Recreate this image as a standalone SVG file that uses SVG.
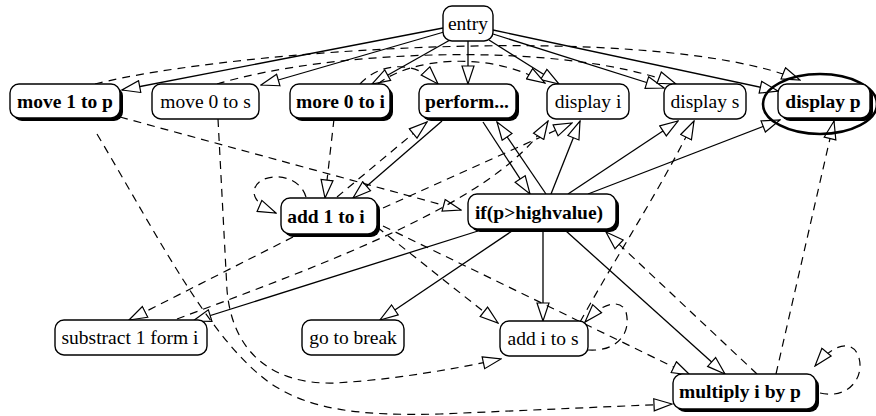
<svg xmlns="http://www.w3.org/2000/svg" width="876" height="416" viewBox="0 0 876 416">
<style>
.s{fill:none;stroke:#000;stroke-width:1.3;marker-end:url(#a)}
.d{fill:none;stroke:#000;stroke-width:1.2;stroke-dasharray:8 6;marker-end:url(#a)}
.box{fill:#fff;stroke:#000;stroke-width:1.4}
.sh{fill:#000}
text{font-family:"Liberation Serif","Times New Roman",serif;font-size:19.5px;text-anchor:middle;fill:#000}
.b text{font-weight:bold}
</style>
<defs>
<marker id="a" markerUnits="userSpaceOnUse" markerWidth="20" markerHeight="14" viewBox="0 0 20 14" refX="19" refY="7" orient="auto">
<path d="M1,1 L19,7 L1,13 Z" fill="#fff" stroke="#000" stroke-width="1.2" stroke-dasharray="none"/>
</marker>
</defs>
<rect width="876" height="416" fill="#fff"/>
<g id="edges">
<path class="s" d="M443,28 L122,90"/>
<path class="s" d="M444,32 L261,85"/>
<path class="s" d="M450,40 L372,84"/>
<path class="s" d="M468,41 L468,84"/>
<path class="s" d="M489,40 L559,84"/>
<path class="s" d="M493,34 L664,88"/>
<path class="s" d="M493,30 L778,91"/>
<path class="s" d="M442,121 L353,198"/>
<path class="s" d="M483,122 L530,194"/>
<path class="s" d="M546,194 L497,122"/>
<path class="s" d="M551,194 L580,121"/>
<path class="s" d="M568,194 L678,121"/>
<path class="s" d="M588,194 L780,120"/>
<path class="s" d="M478,231 L193,321"/>
<path class="s" d="M512,231 L380,320"/>
<path class="s" d="M543,231 L543,321"/>
<path class="s" d="M566,231 L725,374"/>
<path class="d" d="M95,84 C230,50 650,20 800,80"/>
<path class="d" d="M217,84 C330,50 560,40 676,84"/>
<path class="d" d="M378,84 C410,58 490,50 545,83"/>
<path class="d" d="M360,84 C380,62 415,60 438,84"/>
<path class="d" d="M120,117 L461,210"/>
<path class="d" d="M97,134 C160,240 210,340 270,383 C310,410 360,416 440,414 L672,404"/>
<path class="d" d="M218,119 L227,290 C232,350 270,385 335,383 C390,380 450,370 501,359"/>
<path class="d" d="M306,197 C298,170 255,172 254,192 C254,200 262,207 276,213"/>
<path class="d" d="M334,119 L325,198"/>
<path class="d" d="M337,197 L427,122"/>
<path class="d" d="M383,208 L572,123"/>
<path class="d" d="M177,319 C330,262 500,200 548,121"/>
<path class="d" d="M293,237 L129,320"/>
<path class="d" d="M377,227 L498,323"/>
<path class="d" d="M383,226 L690,375"/>
<path class="d" d="M588,350 C615,352 632,335 626,312 C622,300 605,300 585,322"/>
<path class="d" d="M580,322 C620,250 660,190 694,121"/>
<path class="d" d="M757,374 L606,232"/>
<path class="d" d="M776,374 L834,121"/>
<path class="d" d="M820,393 C850,400 866,375 858,355 C852,341 835,342 815,366"/>
</g>
<g id="entry"><rect class="box" x="443" y="6" width="50" height="35" rx="9"/><text x="468" y="30">entry</text></g>
<g id="move1p" class="b"><rect class="sh" x="13" y="87" width="110" height="34" rx="9"/><rect class="box" x="10" y="84" width="110" height="34" rx="9"/><text x="65" y="108">move 1 to p</text></g>
<g id="move0s"><rect class="box" x="152" y="84" width="107" height="35" rx="9"/><text x="205.5" y="108">move 0 to s</text></g>
<g id="more0i" class="b"><rect class="sh" x="293" y="87" width="100" height="34" rx="9"/><rect class="box" x="290" y="84" width="100" height="34" rx="9"/><text x="340.5" y="108">more 0 to i</text></g>
<g id="perform" class="b"><rect class="sh" x="422" y="87" width="97" height="34" rx="9"/><rect class="box" x="419" y="84" width="97" height="34" rx="9"/><text x="467" y="108">perform...</text></g>
<g id="displayi"><rect class="box" x="547" y="84" width="82" height="35" rx="9"/><text x="588" y="108">display i</text></g>
<g id="displays"><rect class="box" x="664" y="84" width="82" height="35" rx="9"/><text x="705" y="108">display s</text></g>
<g id="displayp" class="b"><ellipse cx="820" cy="104" rx="57" ry="30" fill="none" stroke="#000" stroke-width="2.6"/><rect class="sh" x="781" y="87" width="92" height="34" rx="9"/><rect class="box" x="778" y="84" width="92" height="34" rx="9"/><text x="823" y="108">display p</text></g>
<g id="add1i" class="b"><rect class="sh" x="284" y="201" width="96" height="36" rx="9"/><rect class="box" x="281" y="198" width="96" height="36" rx="9"/><text x="326" y="223">add 1 to i</text></g>
<g id="if" class="b"><rect class="sh" x="471" y="197" width="148" height="35" rx="9"/><rect class="box" x="468" y="194" width="148" height="35" rx="9"/><text x="539" y="218.5">if(p&gt;highvalue)</text></g>
<g id="substract"><rect class="box" x="55" y="320" width="152" height="35" rx="9"/><text x="130" y="343.5">substract 1 form i</text></g>
<g id="gotobreak"><rect class="box" x="302" y="320" width="102" height="35" rx="9"/><text x="353" y="343.5">go to break</text></g>
<g id="additos"><rect class="box" x="500" y="321" width="88" height="35" rx="9"/><text x="543" y="344.5">add i to s</text></g>
<g id="multiply" class="b"><rect class="sh" x="676" y="377" width="143" height="35" rx="9"/><rect class="box" x="673" y="374" width="143" height="35" rx="9"/><text x="740" y="398">multiply i by p</text></g>
</svg>
